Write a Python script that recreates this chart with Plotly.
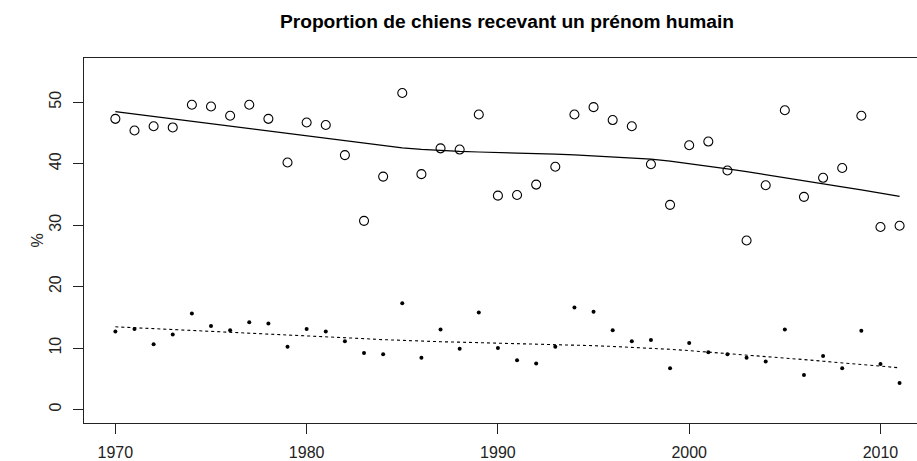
import numpy as np
import plotly.graph_objects as go

years = list(range(1970, 2012))
pct_circles = [47.3, 45.4, 46.1, 45.9, 49.6, 49.3, 47.8, 49.6, 47.3, 40.2,
               46.7, 46.3, 41.4, 30.7, 37.9, 51.5, 38.3, 42.5, 42.3, 48.0,
               34.8, 34.9, 36.6, 39.5, 48.0, 49.2, 47.1, 46.1, 39.9, 33.3,
               43.0, 43.6, 38.9, 27.5, 36.5, 48.7, 34.6, 37.7, 39.3, 47.8,
               29.7, 29.9]
pct_dots = [12.7, 13.1, 10.6, 12.2, 15.6, 13.6, 12.9, 14.2, 14.0, 10.2,
            13.1, 12.7, 11.1, 9.2, 9.0, 17.3, 8.4, 13.0, 9.9, 15.8,
            10.0, 8.0, 7.5, 10.2, 16.6, 15.9, 12.9, 11.1, 11.3, 6.7,
            10.8, 9.3, 9.0, 8.4, 7.8, 13.0, 5.6, 8.7, 6.7, 12.8,
            7.4, 4.3]
x_ticks = [1970, 1980, 1990, 2000, 2010]
y_ticks = [0, 10, 20, 30, 40, 50]
title_text = "Proportion de chiens recevant un prénom humain"


def lowess(x, y, f=2/3, it=3):
    """Port of R's clowess (lowess smoother)."""
    x = np.asarray(x, float)
    y = np.asarray(y, float)
    n = len(x)
    ns = max(min(int(f * n + 1e-7), n), 2)
    rng = x[-1] - x[0]
    rw = np.ones(n)
    ys = np.zeros(n)
    for iteration in range(it + 1):
        nleft, nright = 0, ns - 1
        for i in range(n):
            xs = x[i]
            while nright < n - 1 and (xs - x[nleft]) > (x[nright + 1] - xs):
                nleft += 1
                nright += 1
            h = max(xs - x[nleft], x[nright] - xs)
            h9, h1 = 0.999 * h, 0.001 * h
            r = np.abs(x - xs)
            w = np.zeros(n)
            m = r <= h9
            w[m] = (1 - (r[m] / h) ** 3) ** 3
            w[r <= h1] = 1.0
            if iteration > 0:
                w = w * rw
            a = w.sum()
            if a <= 0:
                ys[i] = y[i]
                continue
            w = w / a
            if h > 0:
                a = (w * x).sum()
                b = xs - a
                c = (w * (x - a) ** 2).sum()
                if np.sqrt(c) > 0.001 * rng:
                    b = b / c
                    w = w * (b * (x - a) + 1.0)
            ys[i] = (w * y).sum()
        if iteration >= it:
            break
        res = y - ys
        ar = np.abs(res)
        cmad = 6 * np.median(ar)
        if cmad < 1e-7 * np.mean(np.abs(y)):
            break
        c9, c1 = 0.999 * cmad, 0.001 * cmad
        rw = np.where(ar <= c1, 1.0,
                      np.where(ar <= c9, (1 - (ar / cmad) ** 2) ** 2, 0.0))
    return ys


fit_circles = lowess(years, pct_circles)
fit_dots = lowess(years, pct_dots)

fig = go.Figure()
fig.add_trace(go.Scatter(x=years, y=pct_circles, mode="markers",
                         marker=dict(symbol="circle-open", size=9,
                                     color="black", line=dict(width=1.1, color="black")),
                         showlegend=False, cliponaxis=False))
fig.add_trace(go.Scatter(x=years, y=fit_circles, mode="lines",
                         line=dict(color="black", width=1.2),
                         showlegend=False))
fig.add_trace(go.Scatter(x=years, y=pct_dots, mode="markers",
                         marker=dict(symbol="circle", size=4, color="black"),
                         showlegend=False))
fig.add_trace(go.Scatter(x=years, y=fit_dots, mode="lines",
                         line=dict(color="black", width=1.1, dash="dot"),
                         showlegend=False))

font_family = "Liberation Sans, Arial, sans-serif"
axis_font = dict(family=font_family, size=16, color="#222")

fig.update_layout(
    width=917, height=461,
    margin=dict(l=84, r=0, t=58, b=38, pad=0, autoexpand=False),
    paper_bgcolor="white", plot_bgcolor="white",
    title=dict(text="<b>" + title_text + "</b>",
               x=507 / 917, xref="container", xanchor="center",
               y=1 - 21 / 461, yref="container", yanchor="middle",
               font=dict(family=font_family, size=19.2, color="black")),
    xaxis=dict(range=[1968.36, 2011.91], tickvals=x_ticks, ticktext=[str(v) for v in x_ticks],
               showgrid=False, zeroline=False, showline=True, linecolor="#222", linewidth=1,
               mirror=True, ticks="outside", ticklen=10, tickcolor="#222", tickwidth=1,
               tickfont=axis_font, ticklabelstandoff=5, automargin=False),
    yaxis=dict(range=[-2.2, 57.2], tickvals=y_ticks, ticktext=[str(v) for v in y_ticks],
               showgrid=False, zeroline=False, showline=True, linecolor="#222", linewidth=1,
               ticks="outside", ticklen=10, tickcolor="#222", tickwidth=1,
               tickangle=-90, tickfont=axis_font, ticklabelstandoff=6, automargin=False),
    annotations=[dict(text="%", xref="paper", yref="paper",
                      x=(37 - 84) / 833, y=0.5, xanchor="center", yanchor="middle",
                      textangle=-90, showarrow=False,
                      font=dict(family=font_family, size=16, color="#222"))],
)

fig.write_html("out.html", config={"displayModeBar": False},
               post_script="document.body.style.margin='0';document.body.style.overflow='hidden';")
